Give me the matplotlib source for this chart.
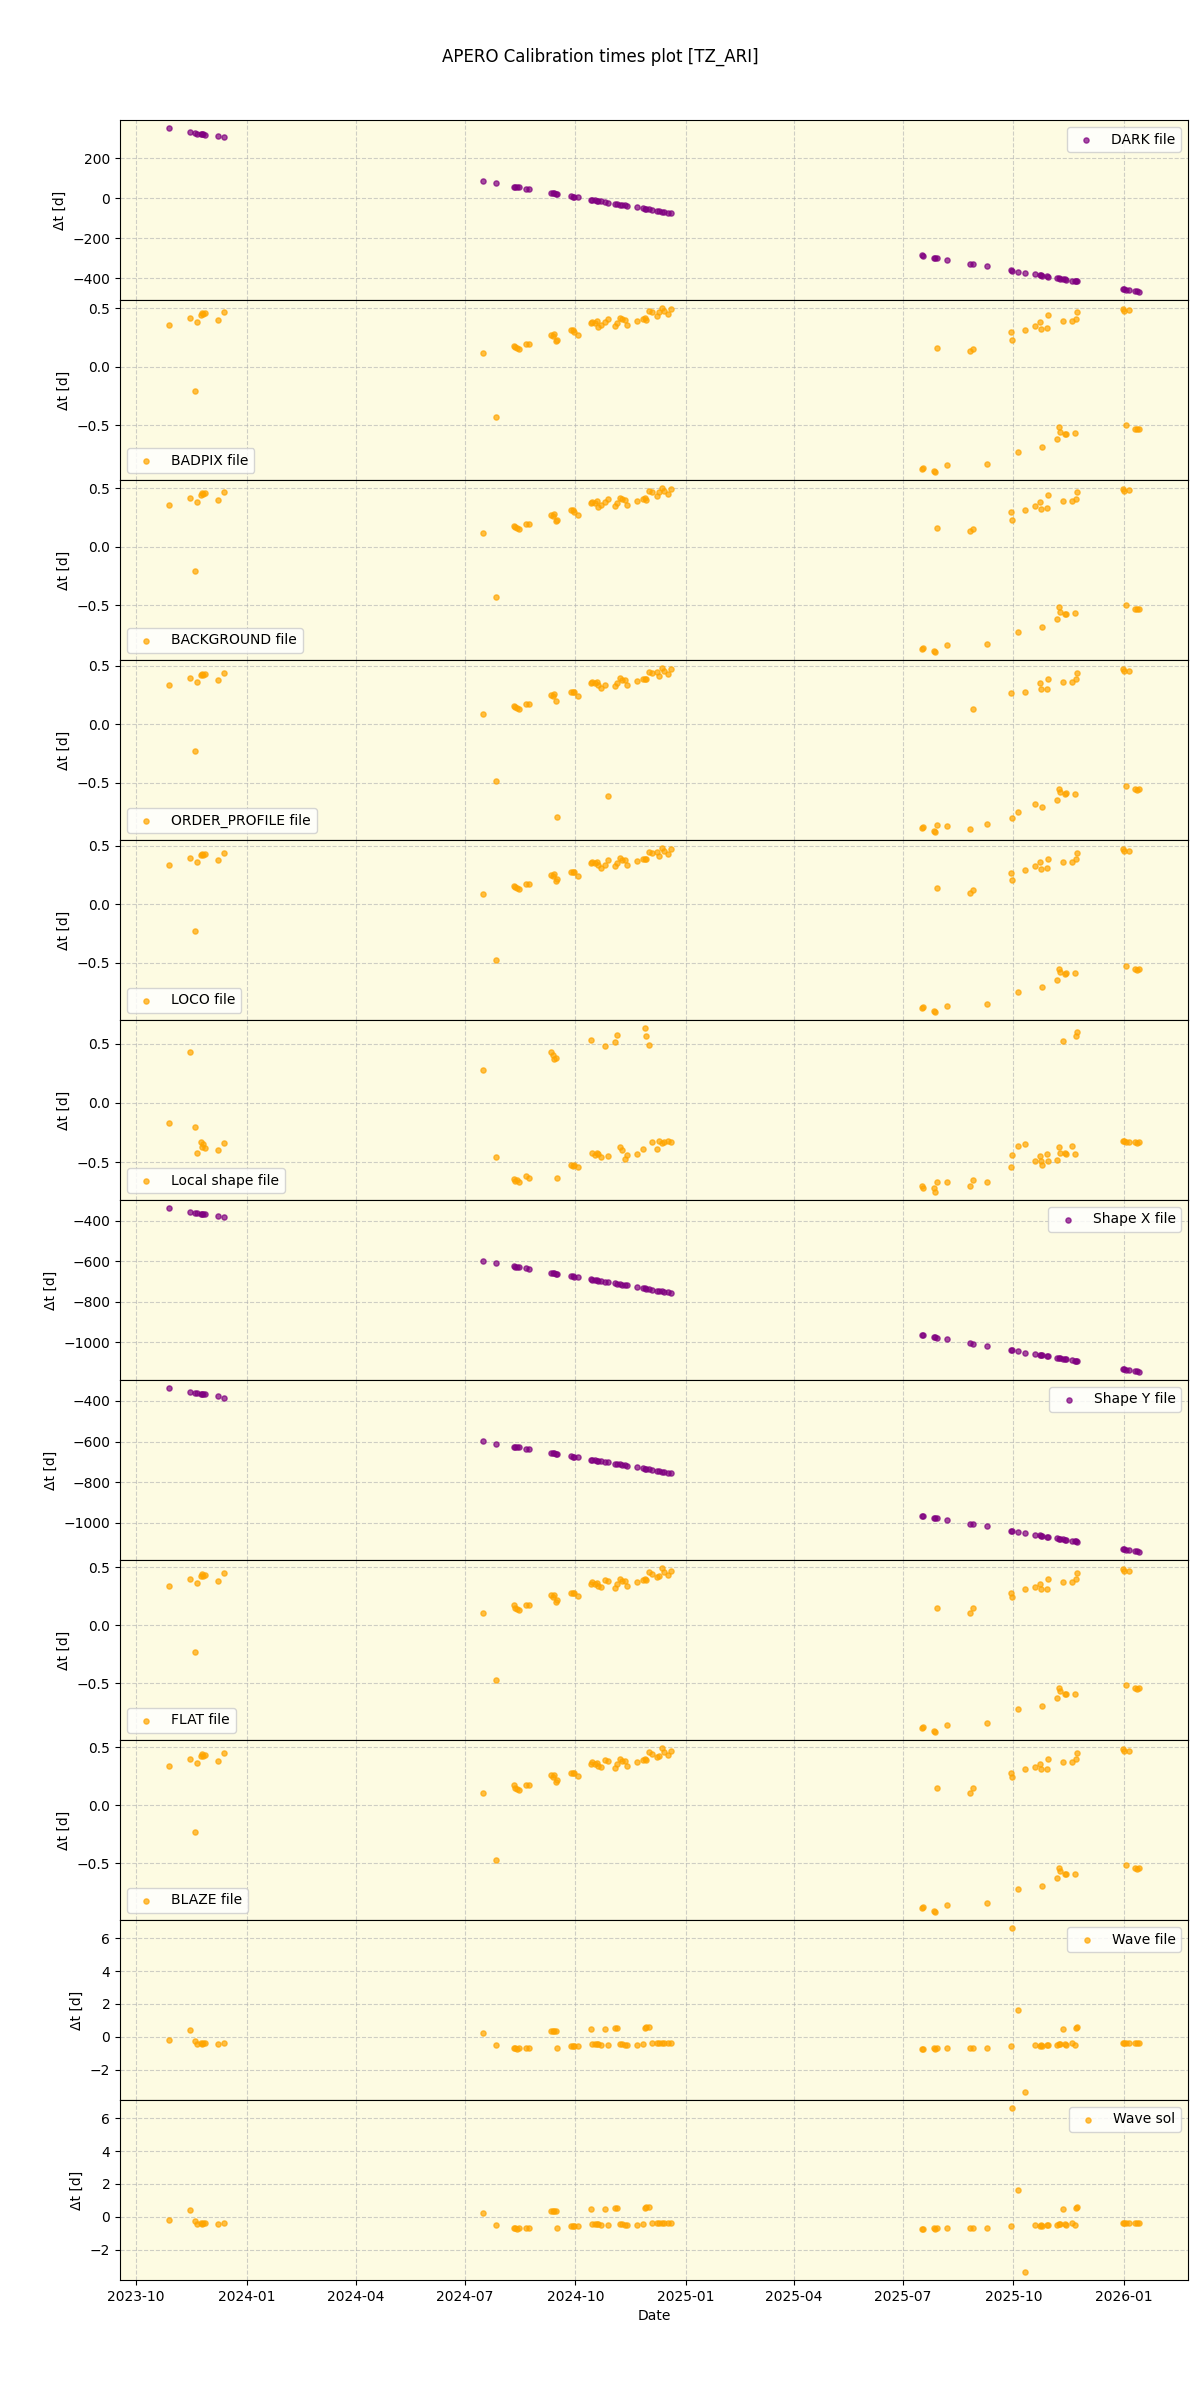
import numpy as np
import pandas as pd
import matplotlib
matplotlib.use("Agg")
import matplotlib.pyplot as plt
import matplotlib.dates as mdates

# observation dates (shared by all panels)
obs_dates = [
    "2023-10-28", "2023-11-15", "2023-11-19", "2023-11-21", "2023-11-24",
    "2023-11-25", "2023-11-26", "2023-11-27", "2023-12-08", "2023-12-13",
    "2024-07-16", "2024-07-27", "2024-08-11", "2024-08-12", "2024-08-13",
    "2024-08-15", "2024-08-21", "2024-08-23",
    "2024-09-11", "2024-09-12", "2024-09-13", "2024-09-15", "2024-09-16",
    "2024-09-27", "2024-09-29", "2024-09-30", "2024-10-03",
    "2024-10-14", "2024-10-15", "2024-10-17", "2024-10-19", "2024-10-20",
    "2024-10-22", "2024-10-26", "2024-10-28",
    "2024-11-03", "2024-11-05", "2024-11-07", "2024-11-09", "2024-11-11",
    "2024-11-13",
    "2024-11-21", "2024-11-26", "2024-11-28", "2024-11-29",
    "2024-12-01", "2024-12-04", "2024-12-08", "2024-12-10", "2024-12-12",
    "2024-12-14", "2024-12-17", "2024-12-20",
    "2025-07-17", "2025-07-18", "2025-07-27", "2025-07-28", "2025-07-29",
    "2025-08-07",
    "2025-08-26", "2025-08-28", "2025-09-09",
    "2025-09-29", "2025-09-30", "2025-10-05", "2025-10-11", "2025-10-19",
    "2025-10-23", "2025-10-24", "2025-10-25", "2025-10-29", "2025-10-30",
    "2025-11-06", "2025-11-08", "2025-11-09", "2025-11-11", "2025-11-13",
    "2025-11-14", "2025-11-19", "2025-11-21", "2025-11-22", "2025-11-23",
    "2025-12-31", "2026-01-01", "2026-01-03", "2026-01-05", "2026-01-10",
    "2026-01-12", "2026-01-14",
]

dark_dt = [
    350, 330, 326, 323, 321, 320, 319, 318, 310, 305,
    85, 74, 58, 57, 56, 54, 47, 45,
    26, 25, 24, 22, 21,
    10, 8, 7, 4,
    -8, -9, -11, -13, -14, -16, -20, -22,
    -28, -30, -32, -34, -36, -38,
    -46, -51, -53, -54,
    -56, -59, -63, -65, -67, -69, -72, -75,
    -285, -286, -296, -297, -298, -306,
    -326, -328, -340,
    -360, -361, -366, -372, -380, -384, -385, -386, -390, -391,
    -398, -400, -401, -403, -405, -406, -411, -413, -414, -415,
    -453, -454, -456, -458, -463, -465, -467,
]

badpix_dt = [
    0.36, 0.42, -0.21, 0.385, 0.44, 0.46, 0.45, 0.46, 0.40, 0.47,
    0.12, -0.43, 0.18, 0.17, 0.16, 0.15, 0.19, 0.19,
    0.27, 0.26, 0.28, 0.22, 0.23,
    0.31, 0.31, 0.30, 0.27,
    0.37, 0.38, 0.37, 0.39, 0.34, 0.36, 0.38, 0.41,
    0.35, 0.37, 0.42, 0.41, 0.40, 0.36,
    0.39, 0.41, 0.42, 0.40,
    0.48, 0.47, 0.43, 0.47, 0.50, 0.48, 0.45, 0.49,
    -0.88, -0.87, -0.89, -0.90, 0.16, -0.845,
    0.13, 0.155, -0.83,
    0.30, 0.23, -0.73, 0.31, 0.35, 0.38, 0.32, -0.69, 0.33, 0.44,
    -0.62, -0.52, -0.56, 0.39, -0.58, -0.58, 0.39, -0.57, 0.41, 0.47,
    0.49, 0.48, -0.50, 0.485, -0.53, -0.53, -0.53,
]

background_dt = [
    0.36, 0.42, -0.21, 0.385, 0.44, 0.46, 0.45, 0.46, 0.40, 0.47,
    0.12, -0.43, 0.18, 0.17, 0.16, 0.15, 0.19, 0.19,
    0.27, 0.26, 0.28, 0.22, 0.23,
    0.31, 0.31, 0.30, 0.27,
    0.37, 0.38, 0.37, 0.39, 0.34, 0.36, 0.38, 0.41,
    0.35, 0.37, 0.42, 0.41, 0.40, 0.36,
    0.39, 0.41, 0.42, 0.40,
    0.48, 0.47, 0.43, 0.47, 0.50, 0.48, 0.45, 0.49,
    -0.88, -0.87, -0.89, -0.90, 0.16, -0.845,
    0.13, 0.155, -0.83,
    0.30, 0.23, -0.73, 0.31, 0.35, 0.38, 0.32, -0.69, 0.33, 0.44,
    -0.62, -0.52, -0.56, 0.39, -0.58, -0.58, 0.39, -0.57, 0.41, 0.47,
    0.49, 0.48, -0.50, 0.485, -0.53, -0.53, -0.53,
]

order_profile_dt = [
    0.34, 0.40, -0.23, 0.36, 0.42, 0.43, 0.42, 0.43, 0.38, 0.44,
    0.09, -0.485, 0.16, 0.15, 0.14, 0.13, 0.17, 0.17,
    0.25, 0.24, 0.26, 0.20, -0.79,
    0.28, 0.28, 0.28, 0.24,
    0.35, 0.36, 0.35, 0.36, 0.34, 0.31, 0.34, -0.61,
    0.33, 0.35, 0.40, 0.38, 0.38, 0.34,
    0.37, 0.39, 0.39, 0.39,
    0.45, 0.44, 0.45, 0.41, 0.48, 0.46, 0.43, 0.47,
    -0.89, -0.88, -0.91, -0.92, -0.86, -0.87,
    -0.90, 0.13, -0.85,
    0.27, -0.80, -0.75, 0.28, -0.68, 0.35, 0.30, -0.71, 0.30, 0.39,
    -0.65, -0.55, -0.58, 0.36, -0.60, -0.59, 0.36, -0.60, 0.39, 0.44,
    0.47, 0.46, -0.53, 0.455, -0.55, -0.56, -0.55,
]

loco_dt = [
    0.34, 0.40, -0.23, 0.36, 0.42, 0.43, 0.42, 0.43, 0.38, 0.44,
    0.09, -0.48, 0.16, 0.15, 0.14, 0.13, 0.17, 0.17,
    0.25, 0.24, 0.26, 0.20, 0.22,
    0.28, 0.28, 0.28, 0.24,
    0.35, 0.36, 0.35, 0.36, 0.34, 0.31, 0.34, 0.38,
    0.33, 0.35, 0.40, 0.38, 0.38, 0.34,
    0.37, 0.39, 0.39, 0.39,
    0.45, 0.44, 0.45, 0.41, 0.48, 0.46, 0.43, 0.47,
    -0.89, -0.88, -0.91, -0.92, 0.14, -0.87,
    0.10, 0.12, -0.85,
    0.27, 0.21, -0.75, 0.29, 0.33, 0.36, 0.30, -0.71, 0.31, 0.39,
    -0.65, -0.55, -0.58, 0.36, -0.60, -0.59, 0.36, -0.59, 0.39, 0.44,
    0.47, 0.46, -0.53, 0.46, -0.55, -0.56, -0.55,
]

local_shape_dt = [
    -0.17, 0.43, -0.20, -0.42, -0.33, -0.37, -0.35, -0.38, -0.40, -0.34,
    0.28, -0.46, -0.64, -0.66, -0.65, -0.67, -0.62, -0.63,
    0.43, 0.40, 0.37, 0.38, -0.63,
    -0.52, -0.53, -0.52, -0.54,
    0.53, -0.42, -0.44, -0.42, -0.43, -0.46, 0.48, -0.45,
    0.51, 0.57, -0.37, -0.40, -0.47, -0.44,
    -0.43, -0.39, 0.63, 0.56,
    0.49, -0.33, -0.39, -0.32, -0.34, -0.33, -0.32, -0.33,
    -0.70, -0.72, -0.72, -0.75, -0.67, -0.67,
    -0.70, -0.65, -0.67,
    -0.54, -0.44, -0.36, -0.35, -0.49, -0.45, -0.49, -0.52, -0.43, -0.49,
    -0.48, -0.37, -0.42, 0.52, -0.42, -0.43, -0.36, -0.43, 0.56, 0.60,
    -0.32, -0.32, -0.33, -0.33, -0.33, -0.34, -0.33,
]

shape_x_dt = [
    -337, -355, -359, -361, -364, -365, -366, -367, -378, -383,
    -599, -610, -625, -626, -627, -629, -635, -637,
    -656, -657, -658, -660, -661,
    -672, -674, -675, -678,
    -689, -690, -692, -694, -695, -697, -701, -703,
    -709, -711, -713, -715, -717, -719,
    -727, -732, -734, -735,
    -737, -740, -744, -746, -748, -750, -753, -756,
    -965, -966, -975, -976, -977, -986,
    -1005, -1007, -1019,
    -1039, -1040, -1045, -1051, -1059, -1063, -1064, -1065, -1069, -1070,
    -1077, -1079, -1080, -1082, -1084, -1085, -1090, -1092, -1093, -1094,
    -1132, -1133, -1135, -1137, -1142, -1144, -1146,
]

shape_y_dt = [
    -337, -355, -359, -361, -364, -365, -366, -367, -378, -383,
    -599, -610, -625, -626, -627, -629, -635, -637,
    -656, -657, -658, -660, -661,
    -672, -674, -675, -678,
    -689, -690, -692, -694, -695, -697, -701, -703,
    -709, -711, -713, -715, -717, -719,
    -727, -732, -734, -735,
    -737, -740, -744, -746, -748, -750, -753, -756,
    -965, -966, -975, -976, -977, -986,
    -1005, -1007, -1019,
    -1039, -1040, -1045, -1051, -1059, -1063, -1064, -1065, -1069, -1070,
    -1077, -1079, -1080, -1082, -1084, -1085, -1090, -1092, -1093, -1094,
    -1130, -1131, -1133, -1135, -1140, -1142, -1144,
]

flat_dt = [
    0.34, 0.40, -0.23, 0.36, 0.42, 0.44, 0.42, 0.43, 0.38, 0.45,
    0.10, -0.47, 0.17, 0.15, 0.14, 0.13, 0.17, 0.17,
    0.26, 0.24, 0.26, 0.20, 0.22,
    0.28, 0.28, 0.28, 0.25,
    0.35, 0.37, 0.35, 0.36, 0.34, 0.33, 0.39, 0.38,
    0.32, 0.35, 0.40, 0.38, 0.38, 0.34,
    0.37, 0.39, 0.40, 0.39,
    0.46, 0.44, 0.41, 0.42, 0.49, 0.46, 0.43, 0.47,
    -0.89, -0.88, -0.91, -0.92, 0.146, -0.86,
    0.10, 0.15, -0.84,
    0.28, 0.24, -0.72, 0.31, 0.33, 0.35, 0.31, -0.70, 0.31, 0.40,
    -0.63, -0.54, -0.57, 0.37, -0.59, -0.59, 0.37, -0.59, 0.40, 0.45,
    0.48, 0.47, -0.52, 0.47, -0.54, -0.55, -0.54,
]

blaze_dt = [
    0.34, 0.40, -0.23, 0.36, 0.42, 0.44, 0.42, 0.43, 0.38, 0.45,
    0.10, -0.47, 0.17, 0.15, 0.14, 0.13, 0.17, 0.17,
    0.26, 0.24, 0.26, 0.20, 0.22,
    0.28, 0.28, 0.28, 0.25,
    0.35, 0.37, 0.35, 0.36, 0.34, 0.33, 0.39, 0.38,
    0.32, 0.35, 0.40, 0.38, 0.38, 0.34,
    0.37, 0.39, 0.40, 0.39,
    0.46, 0.44, 0.41, 0.42, 0.49, 0.46, 0.43, 0.47,
    -0.89, -0.88, -0.91, -0.92, 0.146, -0.86,
    0.10, 0.15, -0.84,
    0.28, 0.24, -0.72, 0.31, 0.33, 0.35, 0.31, -0.70, 0.31, 0.40,
    -0.63, -0.54, -0.57, 0.37, -0.59, -0.59, 0.37, -0.59, 0.40, 0.45,
    0.48, 0.47, -0.52, 0.47, -0.54, -0.55, -0.54,
]

wave_file_dt = [
    -0.18, 0.42, -0.24, -0.40, -0.38, -0.42, -0.38, -0.36, -0.42, -0.36,
    0.24, -0.48, -0.67, -0.70, -0.73, -0.68, -0.67, -0.67,
    0.38, 0.36, 0.34, 0.36, -0.67,
    -0.55, -0.55, -0.55, -0.55,
    0.48, -0.45, -0.43, -0.45, -0.45, -0.46, 0.48, -0.48,
    0.52, 0.52, -0.45, -0.45, -0.46, -0.50,
    -0.46, -0.40, 0.55, 0.58,
    0.60, -0.36, -0.36, -0.36, -0.36, -0.36, -0.36, -0.36,
    -0.73, -0.72, -0.70, -0.74, -0.66, -0.67,
    -0.70, -0.66, -0.69,
    -0.55, 6.6, 1.64, -3.33, -0.50, -0.52, -0.50, -0.52, -0.48, -0.48,
    -0.46, -0.42, -0.45, 0.48, -0.44, -0.46, -0.36, -0.48, 0.55, 0.60,
    -0.36, -0.36, -0.36, -0.36, -0.36, -0.36, -0.36,
]

wave_sol_dt = [
    -0.18, 0.42, -0.24, -0.40, -0.38, -0.42, -0.38, -0.36, -0.42, -0.36,
    0.24, -0.48, -0.67, -0.70, -0.73, -0.68, -0.67, -0.67,
    0.38, 0.36, 0.34, 0.36, -0.67,
    -0.55, -0.55, -0.55, -0.55,
    0.48, -0.45, -0.43, -0.45, -0.45, -0.46, 0.48, -0.48,
    0.52, 0.52, -0.45, -0.45, -0.46, -0.50,
    -0.46, -0.40, 0.55, 0.58,
    0.60, -0.36, -0.36, -0.36, -0.36, -0.36, -0.36, -0.36,
    -0.73, -0.72, -0.70, -0.74, -0.66, -0.67,
    -0.70, -0.66, -0.69,
    -0.55, 6.6, 1.64, -3.33, -0.50, -0.52, -0.50, -0.52, -0.48, -0.48,
    -0.46, -0.42, -0.45, 0.48, -0.44, -0.46, -0.36, -0.48, 0.55, 0.60,
    -0.36, -0.36, -0.36, -0.36, -0.36, -0.36, -0.36,
]

panel_labels = ["DARK file", "BADPIX file", "BACKGROUND file", "ORDER_PROFILE file",
                "LOCO file", "Local shape file", "Shape X file", "Shape Y file",
                "FLAT file", "BLAZE file", "Wave file", "Wave sol"]
panel_values = [dark_dt, badpix_dt, background_dt, order_profile_dt, loco_dt,
                local_shape_dt, shape_x_dt, shape_y_dt, flat_dt, blaze_dt,
                wave_file_dt, wave_sol_dt]
panel_colors = ["purple", "orange", "orange", "orange", "orange", "orange",
                "purple", "purple", "orange", "orange", "orange", "orange"]
legend_locs = ["upper right", "lower left", "lower left", "lower left", "lower left",
               "lower left", "upper right", "upper right", "lower left", "lower left",
               "upper right", "upper right"]

dates = pd.to_datetime(obs_dates)

fig, axes = plt.subplots(12, 1, figsize=(12, 24), sharex=True)
fig.subplots_adjust(left=0.1, right=0.99, top=0.95, bottom=0.05, hspace=0)

for ax, label, vals, col, loc in zip(axes, panel_labels, panel_values, panel_colors, legend_locs):
    ax.set_facecolor("#fdfbe2")
    ax.scatter(dates, vals, s=14, color=col, alpha=0.7, label=label, zorder=3)
    ax.grid(True, linestyle="--", color="#b0b0b0", alpha=0.6)
    ax.set_ylabel("Δt [d]")
    ax.legend(loc=loc)

axes[-1].xaxis.set_major_locator(mdates.MonthLocator(bymonth=[1, 4, 7, 10]))
axes[-1].xaxis.set_major_formatter(mdates.DateFormatter("%Y-%m"))
axes[-1].set_xlabel("Date")
fig.suptitle("APERO Calibration times plot [TZ_ARI]")

fig.savefig("out.png", dpi=100)
